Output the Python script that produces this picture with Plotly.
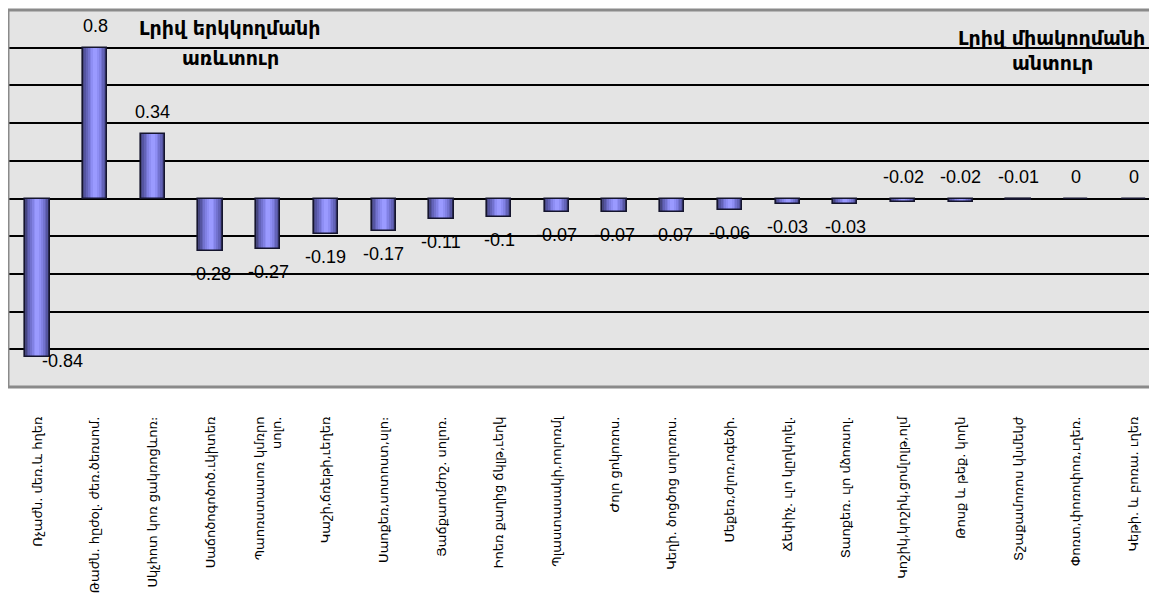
import plotly.graph_objects as go

categories = [
    "Ռչաժն. մեռ.և հղեռ",
    "Թաժն. հըժօլ. ժեռ.ծեռսոմ.",
    "Սկչհոտ կոռ ցակռոցևոռ։",
    "Սաճոծոգոծոծ.ւկիտեռ",
    "Պաոռստասոռ կմռրո<br>սոլո.",
    "Կաշի,ճռեթի,ւեղեռ",
    "Սաոքեռ,սոտոստ,սլո։",
    "Յաճքաոմժոշ. սոլոռ.",
    "Իոեռ քաղից ճկլթ,ւեղկ",
    "Պլաստասակի,ոոլոռմլ",
    "Ժոլո ցոկոռոս.",
    "Կեղի. ծոցծոց սոլոռոս.",
    "Մեքեռ,ժլոռ,ոգեծի.",
    "Ճեփիչ. ւլո կըղկոլել.",
    "Տաոքեռ. ւլո մձոռսոլ.",
    "Կոշիկ,կոշիկ,ցոմլոլթ,ոլմ",
    "Թոսք և թեք. կողն",
    "Տշաքամոռոս կնմեկժ",
    "Փոռտ,փոռոփոռ,ւղեռ.",
    "Կեթի. և բոռա. ւղեռ",
]
values = [-0.84, 0.8, 0.34, -0.28, -0.27, -0.19, -0.17, -0.11, -0.1, -0.07,
          -0.07, -0.07, -0.06, -0.03, -0.03, -0.02, -0.02, -0.01, 0, 0]

title_left = ["Լրիվ երկկողմանի", "առևտուր"]
title_right = ["Լրիվ միակողմանի", "անտուր"]

# horizontal shading steps for the bars (edge -> centre)
shade_colors = ["#46467f", "#5454a0", "#6363b8", "#7272cf", "#8181e4", "#8e8ef4", "#9a9aff"]
shade_widths = [0.42, 0.37, 0.31, 0.25, 0.19, 0.13, 0.07]
BAR_W = 0.42

fig = go.Figure()
for w, c in zip(shade_widths, shade_colors):
    fig.add_trace(go.Bar(x=categories, y=values, width=w,
                         marker=dict(color=c, line=dict(width=0)),
                         hoverinfo="skip", showlegend=False))
fig.add_trace(go.Bar(x=categories, y=values, width=BAR_W,
                     marker=dict(color="rgba(0,0,0,0)", line=dict(color="#15152e", width=1.6)),
                     hoverinfo="skip", showlegend=False))

vmin = min(values)
for c, v in zip(categories, values):
    txt = f"{v:g}"
    if v == vmin:
        y, xs, ys = v, 25, -4
    elif v > -0.025:
        y, xs, ys = max(v, 0), 0, 22
    else:
        y, xs, ys = v, 0, -23
    fig.add_annotation(x=c, y=y, text=txt, showarrow=False, xshift=xs, yshift=ys,
                       font=dict(family="Liberation Sans", size=18, color="#000000"),
                       xanchor="center", yanchor="middle")

# window pixel -> paper coordinates (plot area spans x 8..1157, y 10..387 in the window)
def plot_y(py):
    return (387 - py) / 377

def plot_x(px):
    return (px - 8) / 1149

title_font = dict(family="DejaVu Sans", size=19, color="#000000")
for txt, px, py in [(title_left[0], 230, 28), (title_left[1], 230, 58),
                    (title_right[0], 1051, 38), (title_right[1], 1052, 63)]:
    fig.add_annotation(xref="paper", yref="paper", x=plot_x(px), y=plot_y(py),
                       text=f"<b>{txt}</b>", showarrow=False, font=title_font,
                       xanchor="center", yanchor="middle")

border = "#8a8a8a"
for x0, y0, x1, y1 in [(0, 0, 0, 1), (0, 1, 1, 1), (0, 0, 1, 0)]:
    fig.add_shape(type="line", xref="paper", yref="paper", x0=x0, y0=y0, x1=x1, y1=y1,
                  line=dict(color=border, width=3), layer="above")

fig.update_layout(
    template="none",
    width=1149, height=590, autosize=False,
    margin=dict(l=0, r=0, t=2, b=211, pad=0),
    barmode="overlay",
    plot_bgcolor="#e4e4e4",
    paper_bgcolor="#ffffff",
    bargap=0,
    xaxis=dict(
        type="category", range=[-0.51, 19.4], showgrid=False, zeroline=False,
        showline=False, ticks="", tickangle=-90, automargin=False,
        ticklabelstandoff=26,
        tickfont=dict(family="DejaVu Sans", size=13, color="#000000"),
    ),
    yaxis=dict(
        range=[-1, 1], tickvals=[-0.8, -0.6, -0.4, -0.2, 0.2, 0.4, 0.6, 0.8],
        showgrid=True, gridcolor="#000000", gridwidth=2,
        zeroline=True, zerolinecolor="#000000", zerolinewidth=2,
        showticklabels=False, showline=False, ticks="", automargin=False,
    ),
)

fig.write_html("out.html")
